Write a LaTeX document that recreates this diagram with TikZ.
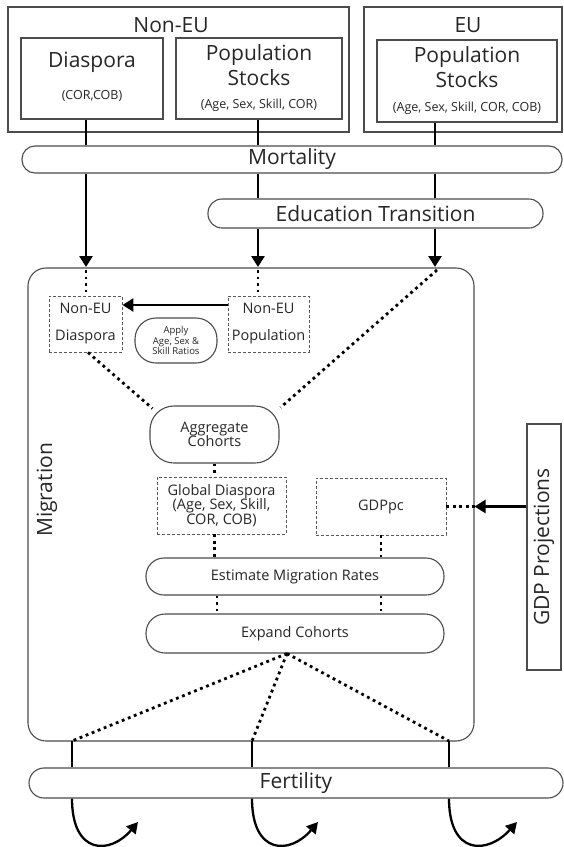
\documentclass[tikz,border=0pt]{standalone}
\usepackage{fontspec}
\setmainfont{Open Sans}
\usepackage{tikz}
\usetikzlibrary{arrows.meta}

\begin{document}
\begin{tikzpicture}[x=1pt, y=-1pt,
  every node/.style={text=black!85, inner sep=0pt},
  frame/.style={draw=black!70, line width=1.1pt},
  dbox/.style={draw=black!65, line width=0.9pt, dash pattern=on 3pt off 2pt},
  pill/.style={draw=black!70, line width=1.1pt, fill=white, rounded corners=#1},
  flow/.style={line width=2.6pt, black},
  flowarrow/.style={flow, -{Triangle[width=13pt, length=11pt]}},
  curvearrow/.style={line width=2.3pt, black, -{Triangle[width=12pt, length=11pt]}},
  dots/.style={line width=2.8pt, black, dash pattern=on 2.8pt off 3.7pt},
  big/.style={font=\fontsize{21}{25}\selectfont},
  med/.style={font=\fontsize{14.5}{14.5}\selectfont},
  small/.style={font=\fontsize{12.5}{14}\selectfont},
]
  \useasboundingbox (0,0) rectangle (564,847);

  % input stocks
  \node[frame, minimum width=341pt, minimum height=125pt] (noneu) at (178.5,69.5) {};
  \node[big] (noneutitle) at (171,25) {Non-EU};
  \node[frame, minimum width=142pt, minimum height=81pt] (dia) at (92,78.5) {};
  \node[big] (diatitle) at (92,62) {Diaspora};
  \node[small] (diasub) at (92,96) {(COR,COB)};
  \node[frame, minimum width=166pt, minimum height=81pt] (npst) at (259,78.5) {};
  \node[big, align=center] (npsttitle) at (259,65.5) {Population\\Stocks};
  \node[small] (npstsub) at (259,105) {(Age, Sex, Skill, COR)};

  \node[frame, minimum width=198pt, minimum height=125pt] (eu) at (463,69.5) {};
  \node[big] (eutitle) at (468,25) {EU};
  \node[frame, minimum width=180pt, minimum height=82pt] (eupst) at (467,81) {};
  \node[big, align=center] (eupsttitle) at (467,67.5) {Population\\Stocks};
  \node[small] (eupstsub) at (467,108) {(Age, Sex, Skill, COR, COB)};

  \node[pill=13pt, big, minimum width=540pt, minimum height=27pt] (mort) at (292,159.5) {Mortality};
  \node[pill=14pt, big, minimum width=335pt, minimum height=29pt] (edu) at (375.5,213.5) {Education Transition};

  % migration block
  \node[frame, rounded corners=18pt, minimum width=446pt, minimum height=473pt] (mig) at (251,504.5) {};
  \node[big, rotate=90] (miglabel) at (47,490) {Migration};

  \node[dbox, med, align=center, font=\fontsize{14.5}{27}\selectfont, minimum width=73pt, minimum height=56pt] (ndia) at (85.5,324) {Non-EU\\Diaspora};
  \node[dbox, med, align=center, font=\fontsize{14.5}{27}\selectfont, minimum width=81pt, minimum height=56pt] (npop) at (268.5,324) {Non-EU\\Population};
  \node[pill=21pt, align=center, font=\fontsize{9.5}{10.5}\selectfont, minimum width=82pt, minimum height=45pt] (apply) at (176,340.5) {Apply\\Age, Sex \&\\Skill Ratios};
  \node[pill=24pt, med, align=center, minimum width=129pt, minimum height=57pt] (agg) at (214.5,434.5) {Aggregate\\Cohorts};
  \node[dbox, med, align=center, minimum width=129pt, minimum height=57pt] (glob) at (221.5,505.5) {Global Diaspora\\(Age, Sex, Skill,\\COR, COB)};
  \node[dbox, med, minimum width=130pt, minimum height=57pt] (gdp) at (381,506.5) {GDPpc};
  \node[pill=18pt, med, minimum width=298pt, minimum height=37pt] (est) at (295,576.5) {Estimate Migration Rates};
  \node[pill=19pt, med, minimum width=298pt, minimum height=39pt] (exp) at (295,633.5) {Expand Cohorts};

  \node[frame, minimum width=34pt, minimum height=246pt] (gdpproj) at (544,547) {};
  \node[big, rotate=90] (gdpprojlabel) at (544,547) {GDP Projections};

  \node[pill=15pt, big, minimum width=534pt, minimum height=30pt] (fert) at (296,783) {Fertility};

  % flows into migration
  \coordinate (inA) at (86,267);
  \coordinate (inB) at (258,267);
  \coordinate (inC) at (435,267);
  \draw[flow] (inA |- dia.south) -- (inA |- mort.north);
  \draw[flowarrow] (inA |- mort.south) -- (inA);
  \draw[flow] (inB |- npst.south) -- (inB |- mort.north);
  \draw[flow] (inB |- mort.south) -- (inB |- edu.north);
  \draw[flowarrow] (inB |- edu.south) -- (inB);
  \draw[flow] (inC |- eupst.south) -- (inC |- mort.north);
  \draw[flow] (inC |- mort.south) -- (inC |- edu.north);
  \draw[flowarrow] (inC |- edu.south) -- (inC);

  \draw[dots] ([yshift=-3pt]inA) -- (inA |- ndia.north);
  \draw[dots] ([yshift=-3pt]inB) -- (inB |- npop.north);
  \draw[flowarrow] ([yshift=19pt]npop.west) -- ([yshift=19pt]ndia.east);
  \draw[dots] ([xshift=2.5pt]ndia.south) -- ([shift={(3pt,-3pt)}]agg.north west);
  \draw[dots] ([shift={(2pt,-3pt)}]inC) -- ([shift={(1pt,-2pt)}]agg.north east);
  \draw[dots] (agg.south) -- (agg.south |- glob.north);
  \draw[dots] (agg.south |- glob.south) -- (agg.south |- est.north);
  \draw[dots] (gdp.south) -- (gdp.south |- est.north);
  \draw[dots] ([xshift=2.5pt]agg.south |- est.south) -- ([xshift=2.5pt]agg.south |- exp.north);
  \draw[dots] (gdp.south |- est.south) -- (gdp.south |- exp.north);
  \draw[dots] (gdp.east) -- (gdp.east -| mig.east);
  \draw[flowarrow] (gdpproj.west |- gdp.east) -- (gdp.east -| mig.east);

  % flows out of migration
  \coordinate (outA) at (72,741);
  \coordinate (outB) at (252,741);
  \coordinate (outC) at (449,741);
  \coordinate (tipA) at (138,822);
  \coordinate (tipB) at (318,822);
  \coordinate (tipC) at (517,822);
  \foreach \c/\t/\x in {outA/tipA/72, outB/tipB/252, outC/tipC/449} {
    \draw[dots] ([xshift=-8pt]exp.south) -- (\c);
    \draw[flow] (\c) -- (\c |- fert.north);
    \draw[curvearrow] (\c |- fert.south) .. controls (\x,855) and (\x+38,855) .. (\t);
  }
\end{tikzpicture}
\end{document}
